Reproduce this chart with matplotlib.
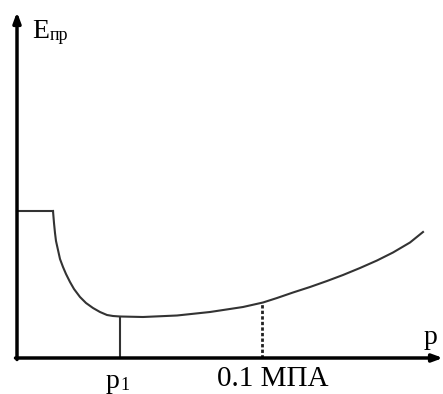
import numpy as np
import matplotlib.pyplot as plt

# curve (origin at axis crossing, units ~ pixels)
flat_p = [0, 36]
flat_E = [147, 147]
curve_p = [36, 37, 38, 39, 41, 43, 46, 49, 53, 57, 63, 69, 76, 83, 90, 96, 103,
           126, 160, 193, 226, 246, 260, 276, 293, 310, 326, 343, 360, 376, 393, 406]
curve_E = [147, 135, 125, 117, 108, 99, 91, 84, 76, 69, 61, 55, 50, 46, 43, 42, 41.5,
           41, 42.5, 46, 51, 55.5, 60, 65.5, 71, 77, 83, 90, 97.5, 105.5, 115.5, 126]
p1 = 103
p1_E = 41.5
p_mpa = 245
p_mpa_E = 55.5

plt.rcParams['font.family'] = ['Liberation Serif', 'DejaVu Serif']

fig = plt.figure(figsize=(4.43, 3.94), dpi=100, facecolor='w')
ax = fig.add_axes([0, 0, 1, 1])
ax.set_xlim(-17, 426)
ax.set_ylim(-36, 358)
ax.axis('off')

# axes with arrows
arrow = dict(arrowstyle='-|>,head_length=0.6,head_width=0.22', lw=2.5, color='k',
             shrinkA=0, shrinkB=0)
ax.annotate('', xy=(0, 346), xytext=(0, -1.5), arrowprops=arrow, annotation_clip=False)
ax.annotate('', xy=(426, 0), xytext=(-1.5, 0), arrowprops=arrow, annotation_clip=False)

ax.plot(flat_p, flat_E, color='#333333', lw=1.5)
ax.plot(curve_p, curve_E, color='#333333', lw=1.5, solid_joinstyle='round')
ax.plot([p1, p1], [0, p1_E], color='#333333', lw=1.5)
ax.plot([p_mpa, p_mpa], [0, p_mpa_E], color='#222222', lw=2, ls=(0, (1.2, 0.8)))

ax.text(15, 320, 'E', fontsize=20, ha='left', va='baseline')
ax.text(33, 318, 'пр', fontsize=13, ha='left', va='baseline')
ax.text(407, 14, 'p', fontsize=20, ha='left', va='baseline')
ax.text(89, -30, 'p', fontsize=20, ha='left', va='baseline')
ax.text(103, -32, '1', fontsize=13, ha='left', va='baseline')
ax.text(256, -28, '0.1 МПА', fontsize=21, ha='center', va='baseline')

plt.savefig('out.png', dpi=100, facecolor='w')
